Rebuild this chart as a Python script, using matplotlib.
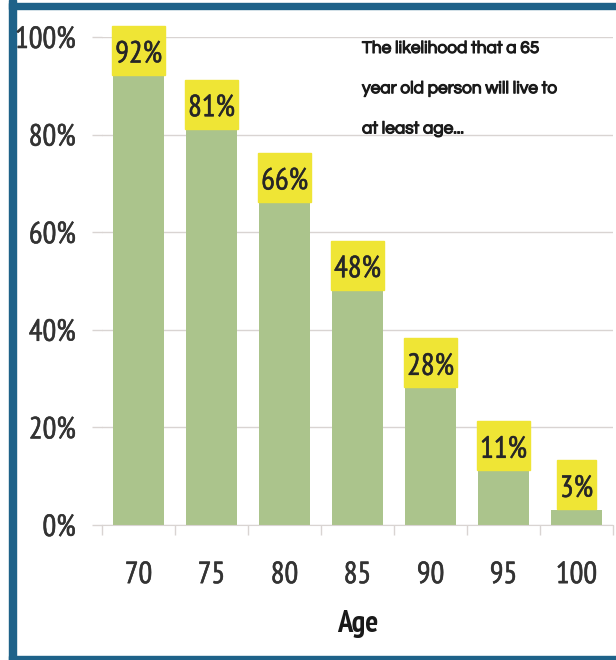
import matplotlib
matplotlib.use("Agg")
import matplotlib.pyplot as plt
import matplotlib.patheffects as pe
from matplotlib.patches import Rectangle

ages = ["70", "75", "80", "85", "90", "95", "100"]
likelihood = [0.92, 0.81, 0.66, 0.48, 0.28, 0.11, 0.03]
bar_labels = ["92%", "81%", "66%", "48%", "28%", "11%", "3%"]
y_ticks = [0, 0.2, 0.4, 0.6, 0.8, 1.0]
y_tick_labels = ["0%", "20%", "40%", "60%", "80%", "100%"]
note = "The likelihood that a 65\nyear old person will live to\nat least age..."

COND = ["PT Sans Narrow", "Roboto Condensed", "DejaVu Sans"]
GOTH = ["Questrial", "DejaVu Sans"]
BAR = "#ABC48C"; BOX = "#EFE535"; GRID = "#D9D4D2"; TEXT = "#333333"; FRAME = "#1E6289"
HEAVY = [pe.withStroke(linewidth=0.4, foreground=TEXT)]

fig = plt.figure(figsize=(6.16, 6.6), dpi=100)
fig.patch.set_facecolor("white")
# blue frame strips of the slide (left, top, bottom)
for rect in [(9 / 616, 0, 7 / 616, 1), (9 / 616, 651 / 660, 1, 6 / 660), (9 / 616, 0, 1, 4 / 660)]:
    fig.add_artist(Rectangle(rect[:2], rect[2], rect[3], transform=fig.transFigure, color=FRAME, zorder=0))

ax = fig.add_axes([102 / 616, 135 / 660, 511 / 616, 488 / 660])
x = list(range(len(ages)))
ax.bar(x, likelihood, width=0.69, color=BAR, zorder=2)
ax.set_xlim(-0.5, len(ages) - 0.5); ax.set_ylim(0, 1)

ax.set_yticks(y_ticks, y_tick_labels, family=COND, fontsize=22, color=TEXT, path_effects=HEAVY)
ax.set_xticks(x, ages, family=COND, fontsize=22, color=TEXT, path_effects=HEAVY)
ax.set_xticks([i - 0.5 for i in range(len(ages) + 1)], minor=True)
ax.tick_params(axis="x", which="major", length=0, pad=26)
ax.tick_params(axis="x", which="minor", length=7, color=GRID, width=1)
ax.tick_params(axis="y", length=7, color=GRID, width=1, pad=12)
ax.yaxis.grid(True, color=GRID, lw=1, zorder=0)
ax.set_axisbelow(True)
for side in ("top", "right", "left"):
    ax.spines[side].set_visible(False)
ax.spines["bottom"].set_color(GRID)
ax.set_xlabel("Age", family=COND, fontsize=22, fontweight="bold", color="#1a1a1a", labelpad=15)

# value labels in yellow boxes sitting on the bars; box sized around the text
box_h = 49 / 488  # box height in axis units (bar scale 0..1)
labels = []
for xi, val, lab in zip(x, likelihood, bar_labels):
    t = ax.annotate(lab, (xi, val + box_h / 2), ha="center", va="center_baseline", fontsize=22,
                    family=COND, color="#262626", zorder=4, annotation_clip=False, path_effects=HEAVY)
    labels.append((t, val))
fig.canvas.draw()
inv = ax.transData.inverted()
for t, val in labels:
    ext = t.get_window_extent()
    (x0, _), (x1, _) = inv.transform([(ext.x0 - 3, 0), (ext.x1 + 3, 0)])
    ax.add_patch(Rectangle((x0, val + 0.002), x1 - x0, box_h, color=BOX, zorder=3, clip_on=False))

fig.text(362 / 616, 1 - 41 / 660, note, ha="left", va="top", fontsize=12.5, family=GOTH, color="#1a1a1a",
         linespacing=3.1, path_effects=[pe.withStroke(linewidth=0.8, foreground="#1a1a1a")])

fig.savefig("out.png", dpi=100)
